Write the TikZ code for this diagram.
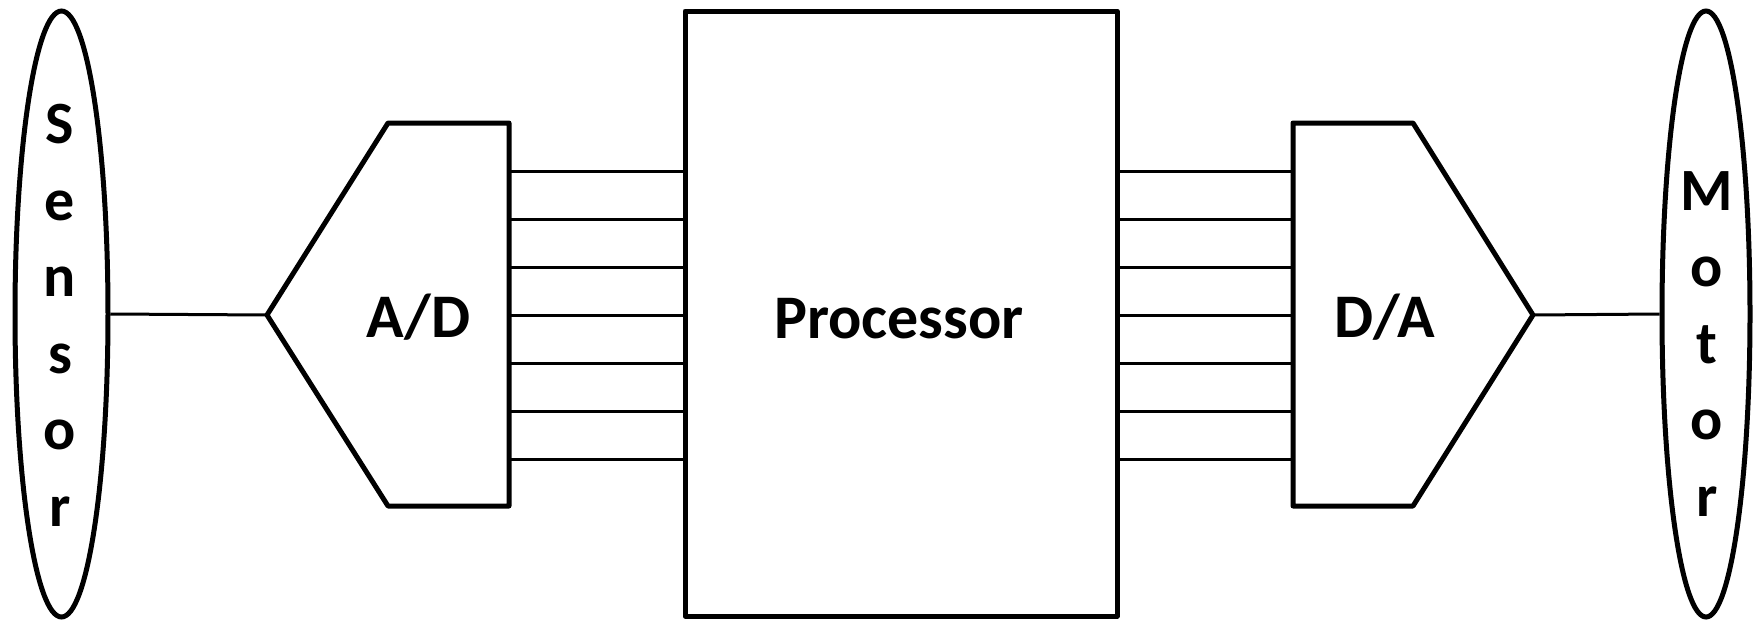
\documentclass[tikz,border=0pt]{standalone}
\usepackage{fontspec}
\setmainfont{Carlito}
\usetikzlibrary{shapes.geometric}
\begin{document}
\begin{tikzpicture}[x=1pt,y=-1pt,
  outl/.style={line width=5pt,line join=round},
  wire/.style={line width=3pt},
  lbl/.style={font=\fontsize{62}{74}\selectfont\bfseries,inner sep=0pt},
  vlbl/.style={font=\fontsize{60}{76.5}\selectfont\bfseries,inner sep=0pt,align=center,anchor=north},
  endpt/.style={ellipse,draw,line width=5pt,minimum width=93pt,minimum height=606pt,inner sep=0pt}]
\useasboundingbox (0,0) rectangle (1754,621);
% end points
\node[endpt] (sensor) at (61.5,314) {};
\node[endpt,minimum width=88pt] (motor) at (1706,314) {};
\node[vlbl] (sensorlbl) at (60,104) {S\\e\\n\\s\\o\\r};
\node[vlbl] (motorlbl) at (1707,171) {M\\o\\t\\o\\r};
% processor
\node[draw,outl,minimum width=432pt,minimum height=605pt,inner sep=0pt] (proc) at (901,313.5) {};
\node[lbl,anchor=base] (proclbl) at (899,338) {Processor};
% A/D
\coordinate (adtip) at (267,315);
\draw[outl] (adtip) -- (388,123) -- (509,123) -- (509,506) -- (388,506) -- cycle;
\node[lbl,anchor=base] (adlbl) at (418.5,337) {A/D};
% D/A
\coordinate (datip) at (1533,315);
\draw[outl] (datip) -- (1413,123) -- (1293,123) -- (1293,506) -- (1413,506) -- cycle;
\node[lbl,anchor=base] (dalbl) at (1384.5,337) {D/A};
% connectors
\draw[wire] (sensor.east) -- (adtip);
\draw[wire] (datip) -- (motor.west);
\foreach \i/\y in {1/171,2/219,3/267,4/315,5/363,6/411,7/459}{
  \coordinate (adb\i) at (509,\y);
  \coordinate (dab\i) at (1293,\y);
  \draw[wire] (adb\i) -- (proc.west |- adb\i);
  \draw[wire] (proc.east |- dab\i) -- (dab\i);
}
\end{tikzpicture}
\end{document}
